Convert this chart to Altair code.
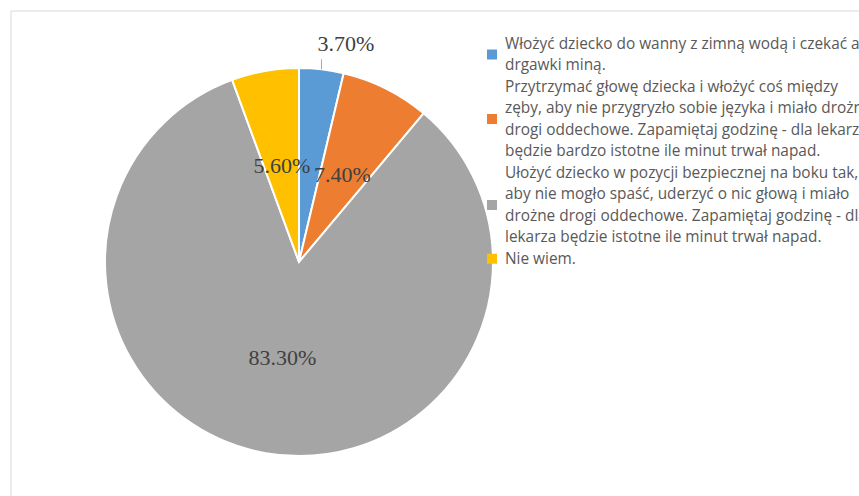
import altair as alt
import pandas as pd

categories = [
    "Włożyć dziecko do wanny z zimną wodą i czekać aż|drgawki miną.",
    "Przytrzymać głowę dziecka i włożyć coś między|zęby, aby nie przygryzło sobie języka i miało drożne|drogi oddechowe. Zapamiętaj godzinę - dla lekarza|będzie bardzo istotne ile minut trwał napad.",
    "Ułożyć dziecko w pozycji bezpiecznej na boku tak,|aby nie mogło spaść, uderzyć o nic głową i miało|drożne drogi oddechowe. Zapamiętaj godzinę - dla|lekarza będzie istotne ile minut trwał napad.",
    "Nie wiem.",
]
values = [3.7, 7.4, 83.3, 5.6]
labels = ["3.70%", "7.40%", "83.30%", "5.60%"]
colors = ["#5B9BD5", "#ED7D31", "#A5A5A5", "#FFC000"]
label_outside = [True, False, False, False]

df = pd.DataFrame({
    "cat": categories,
    "value": values,
    "label": labels,
    "order": list(range(len(values))),
    "outside": label_outside,
})

CX, CY, R = 299, 262, 194
LEG_X, LEG_Y, LH = 492, 33, 21.5

theta = alt.Theta("value:Q", stack=True)
color = alt.Color("cat:N", scale=alt.Scale(domain=categories, range=colors), legend=None)

base = alt.Chart(df)

frame = alt.Chart(pd.DataFrame({"a": [0]})).mark_rect(
    fill="white", stroke="#d9d9d9", strokeWidth=1
).encode(
    x=alt.value(11), y=alt.value(11), x2=alt.value(1200), y2=alt.value(1200)
)

pie = base.mark_arc(outerRadius=R, stroke="white", strokeWidth=2).encode(
    theta=theta,
    color=color,
    order=alt.Order("order:Q"),
    x=alt.value(CX),
    y=alt.value(CY),
)

inside = base.transform_calculate(
    lab_in="datum.outside ? '' : datum.label"
).mark_text(
    font="Liberation Serif", fontSize=22, color="#404040", radius=97
).encode(
    theta=theta,
    text="lab_in:N",
    order=alt.Order("order:Q"),
    x=alt.value(CX),
    y=alt.value(CY),
)

angles = base.transform_window(
    cum="sum(value)", sort=[alt.SortField("order")]
).transform_joinaggregate(
    total="sum(value)"
).transform_calculate(
    ang="(datum.cum - datum.value / 2) / datum.total * 2 * PI",
).transform_calculate(
    lx=f"{CX} + {R} * sin(datum.ang)",
    ly1=f"{CY} - {R} * cos(datum.ang)",
    ly2=f"{CY} - {R} * cos(datum.ang) - 10",
).transform_filter("datum.outside")

leader = angles.mark_rule(color="#a6a6a6", strokeWidth=1).encode(
    x=alt.X("lx:Q", scale=None),
    y=alt.Y("ly1:Q", scale=None),
    y2="ly2:Q",
)

outside = angles.mark_text(
    font="Liberation Serif", fontSize=22, color="#404040",
    align="left", baseline="bottom", dx=-4, dy=-13,
).encode(
    x=alt.X("lx:Q", scale=None),
    y=alt.Y("ly1:Q", scale=None),
    text="label:N",
)

leg = base.transform_calculate(
    lines="split(datum.cat, '|')",
).transform_calculate(
    n="length(datum.lines)",
).transform_window(
    cumn="sum(n)", sort=[alt.SortField("order")]
).transform_calculate(
    sy=f"{LEG_Y} + (datum.cumn - datum.n / 2) * {LH}",
    ty=f"{LEG_Y} + (datum.cumn - datum.n + 0.5) * {LH}",
)

leg_sym = leg.mark_square(size=100, opacity=1).encode(
    x=alt.value(LEG_X),
    y=alt.Y("sy:Q", scale=None),
    color=color,
)

leg_txt = leg.mark_text(
    font="Open Sans", fontSize=15.4, color="#595959", align="left",
    baseline="middle", lineHeight=LH,
).encode(
    x=alt.value(LEG_X + 13),
    y=alt.Y("ty:Q", scale=None),
    text="lines:N",
)

chart = alt.layer(frame, pie, leader, inside, outside, leg_sym, leg_txt).properties(
    width=859, height=496, autosize=alt.AutoSizeParams(type="none"), padding=0
).configure_view(stroke=None)

chart.save("out.html", embed_options={"renderer": "svg", "actions": False})
